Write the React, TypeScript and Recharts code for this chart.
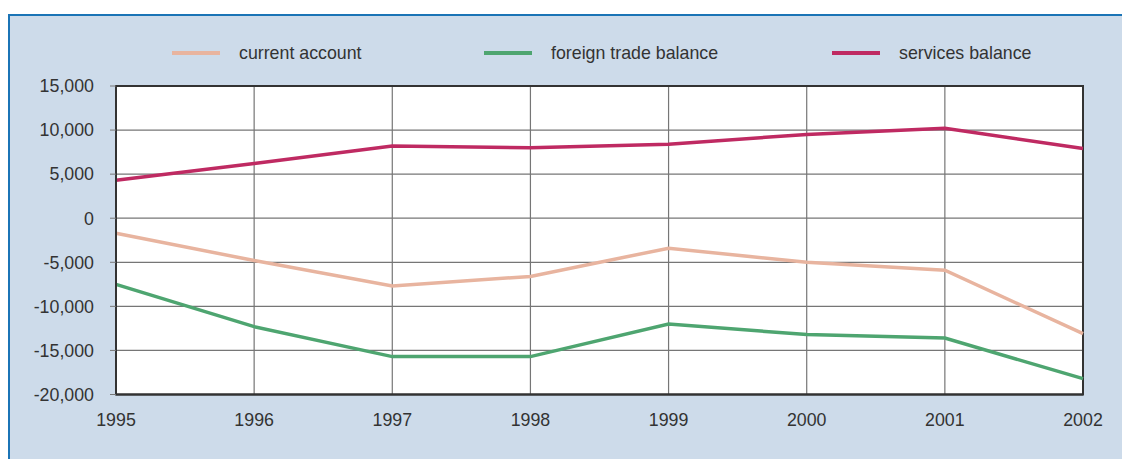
import React from "react";
import {
  LineChart,
  Line,
  XAxis,
  YAxis,
  CartesianGrid,
  Legend,
  ReferenceArea,
} from "recharts";

const years = ["1995", "1996", "1997", "1998", "1999", "2000", "2001", "2002"];
const currentAccount = [-1700, -4800, -7700, -6600, -3400, -5000, -5900, -13100];
const foreignTradeBalance = [-7500, -12300, -15700, -15700, -12000, -13200, -13600, -18200];
const servicesBalance = [4300, 6200, 8200, 8000, 8400, 9500, 10200, 7900];
const yTicks = [-20000, -15000, -10000, -5000, 0, 5000, 10000, 15000];

const seriesInfo = [
  { key: "current", name: "current account", color: "#e8b49f" },
  { key: "trade", name: "foreign trade balance", color: "#4ea570" },
  { key: "services", name: "services balance", color: "#bf2a62" },
];

const data = years.map((y, i) => ({
  year: y,
  current: currentAccount[i],
  trade: foreignTradeBalance[i],
  services: servicesBalance[i],
}));

const FONT = "'Liberation Sans', Arial, Helvetica, sans-serif";
const TEXT = "#333333";
const legendX = [162, 474, 822];

const fmt = (v: number) => v.toLocaleString("en-US");

const LegendContent = () => (
  <div style={{ position: "relative", width: 1120, height: 24, fontFamily: FONT }}>
    {seriesInfo.map((s, i) => (
      <div key={s.key} style={{ position: "absolute", left: legendX[i], top: 0, height: 24 }}>
        <div
          style={{
            position: "absolute",
            left: 0,
            top: 10,
            width: 48,
            height: 4,
            background: s.color,
          }}
        />
        <div
          style={{
            position: "absolute",
            left: 67,
            top: 0,
            whiteSpace: "nowrap",
            fontSize: 17.8,
            lineHeight: "24px",
            color: TEXT,
          }}
        >
          {s.name}
        </div>
      </div>
    ))}
  </div>
);

export default function App() {
  return (
    <div
      style={{
        marginTop: 6,
        width: 1122,
        height: 445,
        boxSizing: "border-box",
        borderTop: "2px solid #1b74b6",
        borderLeft: "2px solid #1b74b6",
        background: "#cddbea",
        position: "relative",
        overflow: "hidden",
      }}
    >
      <div style={{ position: "absolute", left: 0, top: 0 }}>
        <LineChart
          width={1120}
          height={443}
          data={data}
          margin={{ top: 70, right: 47, left: 0, bottom: 34.5 }}
        >
          <CartesianGrid stroke="#767676" strokeWidth={1.2} fill="#ffffff" />
          <XAxis
            dataKey="year"
            tickLine={false}
            axisLine={{ stroke: "#333", strokeWidth: 2 }}
            tickMargin={12.5}
            height={30}
            interval={0}
            tick={{ fill: TEXT, fontSize: 17.8, fontFamily: FONT }}
          />
          <YAxis
            domain={[-20000, 15000]}
            ticks={yTicks}
            width={106}
            tickSize={6}
            tickMargin={16}
            tickFormatter={fmt}
            interval={0}
            axisLine={{ stroke: "#333", strokeWidth: 2 }}
            tickLine={{ stroke: "#777" }}
            tick={{ fill: TEXT, fontSize: 17.8, fontFamily: FONT }}
          />
          <ReferenceArea
            x1="1995"
            x2="2002"
            y1={-20000}
            y2={15000}
            fill="none"
            fillOpacity={0}
            stroke="#333"
            strokeWidth={2}
            ifOverflow="visible"
          />
          <Legend
            verticalAlign="middle"
            layout="horizontal"
            wrapperStyle={{ top: 25, left: 0, width: 1120 }}
            content={<LegendContent />}
          />
          {seriesInfo.map((s) => (
            <Line
              key={s.key}
              type="linear"
              dataKey={s.key}
              name={s.name}
              stroke={s.color}
              strokeWidth={3.5}
              dot={false}
              activeDot={false}
              isAnimationActive={false}
            />
          ))}
        </LineChart>
      </div>
    </div>
  );
}
